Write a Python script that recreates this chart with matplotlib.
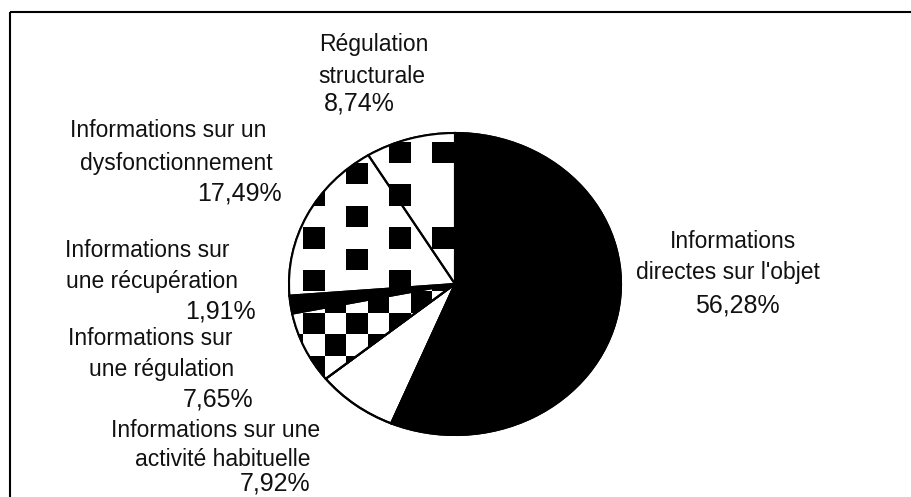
import matplotlib

matplotlib.use("Agg")
import matplotlib.pyplot as plt
import numpy as np
from matplotlib.patches import Wedge

plt.rcParams["font.family"] = ["Liberation Sans", "DejaVu Sans"]

# slices, clockwise from 12 o'clock
categories = [
    "Informations\ndirectes sur l'objet",
    "Informations sur une\nactivité habituelle",
    "Informations sur\nune régulation",
    "Informations sur\nune récupération",
    "Informations sur un\ndysfonctionnement",
    "Régulation\nstructurale",
]
values = [56.28, 7.92, 7.65, 1.91, 17.49, 8.74]
fills = ["black", "white", "checker", "black", "sparse", "sparse"]

# label layout in figure pixels: (x centre, baseline) for each line, last = percentage
label_pos = [
    [(733, 248), (728, 279), (737, 313)],
    [(216, 437), (223, 466), (275, 490)],
    [(150, 345), (162, 376), (218, 407)],
    [(147, 257), (152, 288), (220, 318)],
    [(168, 137), (176, 170), (239, 201)],
    [(374, 51), (372, 83), (359, 111)],
]

W, H = 911, 497
cx, cy, rx, ry = 455, 284, 166, 151
FS = 16.5
FS_PCT = 18

fig = plt.figure(figsize=(W / 100, H / 100), dpi=100)

# full-figure overlay in pixel coordinates for frame and labels
ov = fig.add_axes([0, 0, 1, 1])
ov.set_xlim(0, W)
ov.set_ylim(H, 0)
ov.axis("off")
ov.plot([9.5, W], [12, 12], color="black", lw=1.5, solid_capstyle="butt")
ov.plot([9.5, 9.5], [12, H], color="black", lw=1.5, solid_capstyle="butt")

for cat, val, pos in zip(categories, values, label_pos):
    lines = cat.split("\n") + [f"{val:.2f}%".replace(".", ",")]
    sizes = [FS] * (len(lines) - 1) + [FS_PCT]
    for txt, fs, (x, y) in zip(lines, sizes, pos):
        ov.text(x, y, txt, fontsize=fs, ha="center", va="baseline", color="#111111")

# elliptical pie: axes box is the bounding box of the ellipse
pax = fig.add_axes([(cx - rx) / W, (H - cy - ry) / H, 2 * rx / W, 2 * ry / H])
face = ["black" if f == "black" else "white" for f in fills]
wedges, _ = pax.pie(values, startangle=90, counterclock=False, colors=face,
                    wedgeprops=dict(edgecolor="black", linewidth=1.5))

# checker textures on a common pixel grid
cell = 21.4
gx0, gy0 = 303.3 - cell, 141.7 - cell
n = 17
I, J = np.meshgrid(np.arange(n) - 1, np.arange(n) - 1)
dense = (I + J) % 2 == 0
sparse = np.zeros_like(dense)
for col in range(n):
    i = col - 1
    if i % 2:
        continue
    m = i % 6
    rows = np.arange(n) - 1
    if m == 2:
        sparse[:, col] = rows % 2 == 1
    elif i == 6:
        sparse[:, col] = rows % 4 == 0
    else:
        sparse[:, col] = rows % 2 == 0

ext = ((gx0 - cx) / rx, (gx0 + n * cell - cx) / rx,
       (cy - gy0 - n * cell) / ry, (cy - gy0) / ry)
textures = {"checker": dense, "sparse": sparse}

for w, f in zip(wedges, fills):
    w.set_clip_on(False)
    if f in textures:
        im = pax.imshow(np.where(textures[f], 0.0, 1.0), cmap="gray", vmin=0, vmax=1,
                        interpolation="nearest", aspect="auto", extent=ext, zorder=2)
        im.set_clip_path(w)
    pax.add_patch(Wedge((0, 0), 1, w.theta1, w.theta2, fill=False, ec="black",
                        lw=1.5, zorder=3, clip_on=False))

pax.set_aspect("auto")
pax.set_xlim(-1, 1)
pax.set_ylim(-1, 1)
pax.axis("off")

fig.savefig("out.png", dpi=100, facecolor="white")
